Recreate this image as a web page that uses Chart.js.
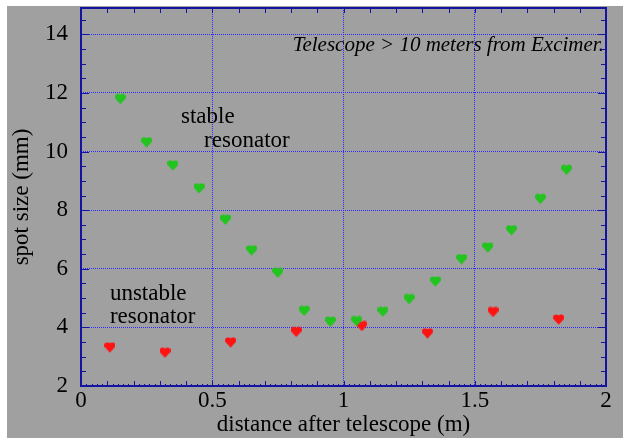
<!DOCTYPE html>
<html>
<head>
<meta charset="utf-8">
<script src="https://cdn.jsdelivr.net/npm/chart.js@4/dist/chart.umd.min.js"></script>
<style>
  html, body { margin: 0; padding: 0; background: #fff; }
  #wrap { position: absolute; left: 7px; top: 2px; width: 616px; height: 436px; background: #a0a0a0; }
  #strip { position: absolute; left: 0; top: 0; width: 623px; height: 6px; background: #fff; }
</style>
</head>
<body>
<div id="wrap"><canvas id="spotChart"></canvas></div>
<div id="strip"></div>
<script>
// stable resonator (green)
const stableX = [0.15, 0.25, 0.35, 0.45, 0.55, 0.65, 0.75, 0.85, 0.95, 1.05, 1.15, 1.25, 1.35, 1.45, 1.55, 1.64, 1.75, 1.85];
const stableY = [11.8, 10.32, 9.53, 8.75, 7.68, 6.63, 5.87, 4.57, 4.2, 4.22, 4.54, 4.97, 5.57, 6.33, 6.73, 7.32, 8.39, 9.38];

// unstable resonator (red)
const unstableX = [0.11, 0.32, 0.57, 0.82, 1.07, 1.32, 1.57, 1.82];
const unstableY = [3.32, 3.14, 3.49, 3.85, 4.05, 3.8, 4.53, 4.27];

const xTicks = [0, 0.5, 1, 1.5, 2];
const yTicks = [2, 4, 6, 8, 10, 12, 14];

// text inside the plot, in data units (x = left or right edge, y = baseline)
const notes = [
  { text: 'stable', x: 0.381, y: 10.96, align: 'left', italic: false },
  { text: 'resonator', x: 0.469, y: 10.14, align: 'left', italic: false },
  { text: 'unstable', x: 0.11, y: 4.94, align: 'left', italic: false },
  { text: 'resonator', x: 0.11, y: 4.15, align: 'left', italic: false },
  { text: 'Telescope > 10 meters from Excimer.', x: 1.992, y: 13.42, align: 'right', italic: true }
];

const frameColor = '#1414a0';
const gridColor = '#2a2aff';
const serif = '"Liberation Serif", "DejaVu Serif", serif';

function makeMarker(color) {
  const c = document.createElement('canvas');
  c.width = 11; c.height = 11;
  const g = c.getContext('2d');
  g.fillStyle = color;
  g.beginPath();
  g.arc(3, 3.5, 3, Math.PI, 0);
  g.arc(8, 3.5, 3, Math.PI, 0);
  g.lineTo(10.8, 5);
  g.lineTo(5.5, 10.8);
  g.lineTo(0.2, 5);
  g.closePath();
  g.fill();
  return c;
}

const framePlugin = {
  id: 'frame',
  beforeDatasetsDraw(chart) {
    const { ctx, scales: { x, y } } = chart;
    ctx.save();
    ctx.fillStyle = '#000';
    notes.forEach(n => {
      ctx.font = (n.italic ? 'italic 21px ' : '23px ') + serif;
      ctx.textAlign = n.align;
      ctx.textBaseline = 'alphabetic';
      ctx.fillText(n.text, x.getPixelForValue(n.x), y.getPixelForValue(n.y));
    });
    ctx.restore();
  },
  afterDraw(chart) {
    const { ctx, chartArea: a, scales: { x, y } } = chart;
    ctx.save();
    ctx.strokeStyle = frameColor;
    ctx.lineWidth = 1;
    ctx.beginPath();
    // bottom / top ticks
    for (let v = 0; v <= 2.0001; v += 0.02) {
      const px = Math.round(x.getPixelForValue(v)) + 0.5;
      const tenth = Math.abs(v * 10 - Math.round(v * 10)) < 0.01;
      const len = tenth ? 5 : 2;
      ctx.moveTo(px, a.bottom); ctx.lineTo(px, a.bottom - len);
      if (tenth) { ctx.moveTo(px, a.top); ctx.lineTo(px, a.top + 5); }
    }
    // left / right ticks
    for (let v = 2; v <= 14.9; v += 0.5) {
      const py = Math.round(y.getPixelForValue(v)) + 0.5;
      const major = Math.abs(v % 2) < 0.01;
      ctx.moveTo(a.left, py); ctx.lineTo(a.left + (major ? 8 : 5), py);
      ctx.moveTo(a.right, py); ctx.lineTo(a.right - (major ? 8 : 5), py);
    }
    ctx.stroke();
    ctx.lineWidth = 2;
    ctx.strokeRect(a.left, a.top, a.right - a.left, a.bottom - a.top);
    ctx.restore();
  }
};

new Chart(document.getElementById('spotChart'), {
  type: 'scatter',
  data: {
    datasets: [
      {
        label: 'stable resonator',
        data: stableX.map((v, i) => ({ x: v, y: stableY[i] })),
        pointStyle: makeMarker('#22c41e'),
        pointRadius: 5
      },
      {
        label: 'unstable resonator',
        data: unstableX.map((v, i) => ({ x: v, y: unstableY[i] })),
        pointStyle: makeMarker('#ff1212'),
        pointRadius: 5
      }
    ]
  },
  options: {
    responsive: true,
    maintainAspectRatio: false,
    animation: false,
    layout: { padding: { top: 0, right: 17, left: 0, bottom: 0 } },
    plugins: { legend: { display: false }, tooltip: { enabled: false } },
    scales: {
      x: {
        type: 'linear',
        min: 0,
        max: 2,
        afterBuildTicks: s => { s.ticks = xTicks.map(v => ({ value: v })); },
        afterFit: s => { s.height = 52; s.paddingLeft = 0; s.paddingRight = 0; },
        grid: { color: gridColor, lineWidth: 1, drawTicks: false },
        border: { display: false, dash: [1, 1] },
        ticks: {
          padding: 1,
          color: '#000',
          font: { family: serif, size: 23 },
          maxRotation: 0,
          callback: v => String(v)
        },
        title: {
          display: true,
          text: 'distance after telescope (m)',
          color: '#000',
          font: { family: serif, size: 23 },
          padding: { top: 0, bottom: -1 }
        }
      },
      y: {
        type: 'linear',
        min: 2,
        max: 14.9,
        afterBuildTicks: s => { s.ticks = yTicks.map(v => ({ value: v })); },
        afterFit: s => { s.width = 74; s.paddingTop = 0; s.paddingBottom = 0; },
        grid: { color: gridColor, lineWidth: 1, drawTicks: false },
        border: { display: false, dash: [1, 1] },
        ticks: {
          padding: 13,
          color: '#000',
          font: { family: serif, size: 23 },
          callback: v => String(v)
        },
        title: {
          display: true,
          text: 'spot size (mm)',
          color: '#000',
          font: { family: serif, size: 23 },
          padding: { top: 1, bottom: 0 }
        }
      }
    }
  },
  plugins: [framePlugin]
});
</script>
</body>
</html>
